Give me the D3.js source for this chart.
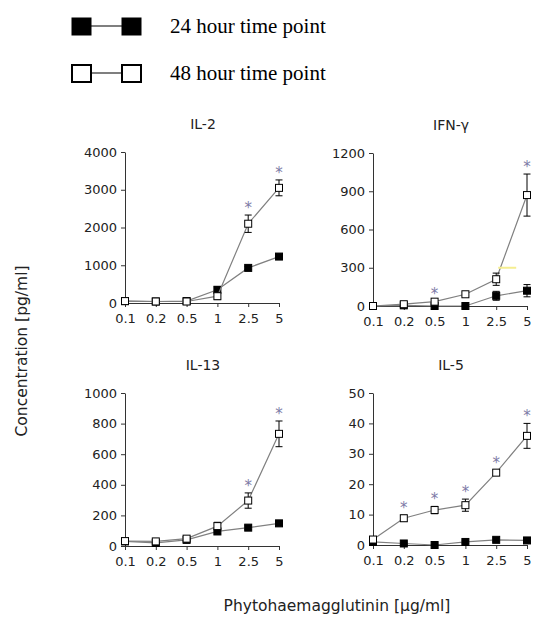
<!DOCTYPE html>
<html>
<head>
<meta charset="utf-8">
<script src="https://cdn.jsdelivr.net/npm/d3@7"></script>
<style>
  body { margin: 0; background: #fff; }
  svg { display: block; }
</style>
</head>
<body>
<svg id="chart" width="536" height="621"></svg>
<script>
// doses (categorical, evenly spaced)
var doses = ["0.1", "0.2", "0.5", "1", "2.5", "5"];

// IL-2
var il2_24 = [50, 40, 50, 350, 930, 1230];
var il2_24err = [20, 20, 20, 80, 40, 50];
var il2_48 = [50, 40, 40, 180, 2100, 3050];
var il2_48err = [20, 20, 20, 90, 230, 210];
var il2_stars = ["2.5", "5"];

// IFN-gamma
var ifn_24 = [0, 5, 0, 0, 80, 120];
var ifn_24err = [2, 2, 2, 2, 35, 48];
var ifn_48 = [0, 14, 34, 92, 210, 870];
var ifn_48err = [2, 5, 8, 15, 48, 165];
var ifn_stars = ["0.5", "5"];

// IL-13
var il13_24 = [30, 20, 40, 95, 120, 148];
var il13_24err = [5, 5, 8, 12, 12, 12];
var il13_48 = [32, 30, 48, 130, 297, 733];
var il13_48err = [5, 5, 8, 25, 50, 84];
var il13_stars = ["2.5", "5"];

// IL-5
var il5_24 = [1, 0.5, 0, 1, 1.7, 1.5];
var il5_24err = [0.4, 0.4, 0.3, 0.5, 0.6, 0.6];
var il5_48 = [1.8, 8.8, 11.5, 13.1, 23.8, 35.9];
var il5_48err = [0.5, 1, 1.2, 2, 0.8, 4.1];
var il5_stars = ["0.2", "0.5", "1", "2.5", "5"];

var svg = d3.select("#chart");
var sans = "DejaVu Sans, Verdana, sans-serif";

var panels = [
  { title: "IL-2", s24: il2_24, e24: il2_24err, s48: il2_48, e48: il2_48err, stars: il2_stars,
    max: 4000, ticks: [0, 1000, 2000, 3000, 4000], x0: 125, x1: 279, y0: 303, y1: 152 },
  { title: "IFN-\u03b3", s24: ifn_24, e24: ifn_24err, s48: ifn_48, e48: ifn_48err, stars: ifn_stars,
    max: 1200, ticks: [0, 300, 600, 900, 1200], x0: 373, x1: 527, y0: 306, y1: 153 },
  { title: "IL-13", s24: il13_24, e24: il13_24err, s48: il13_48, e48: il13_48err, stars: il13_stars,
    max: 1000, ticks: [0, 200, 400, 600, 800, 1000], x0: 125, x1: 279, y0: 546, y1: 393 },
  { title: "IL-5", s24: il5_24, e24: il5_24err, s48: il5_48, e48: il5_48err, stars: il5_stars,
    max: 50, ticks: [0, 10, 20, 30, 40, 50], x0: 373, x1: 527, y0: 545, y1: 393 }
];

var sq = 7;

function styleAxis(a) {
    a.select(".domain").attr("stroke", "#333");
    a.selectAll(".tick line").attr("stroke", "#333");
    a.selectAll("text").style("font-family", sans)
        .style("font-size", "13px").attr("fill", "#222");
}

panels.forEach(function (p) {
    var x = d3.scalePoint().domain(doses).range([p.x0, p.x1]);
    var y = d3.scaleLinear().domain([0, p.max]).range([p.y0, p.y1]);
    var g = svg.append("g");

    g.append("g")
        .attr("transform", "translate(" + p.x0 + ",0)")
        .call(d3.axisLeft(y).tickValues(p.ticks).tickFormat(d3.format("d"))
            .tickSize(4).tickPadding(4).tickSizeOuter(0))
        .call(styleAxis);

    g.append("g")
        .attr("transform", "translate(0," + p.y0 + ")")
        .call(d3.axisBottom(x).tickSize(4).tickPadding(7).tickSizeOuter(0))
        .call(styleAxis);

    g.append("text")
        .attr("x", (p.x0 + p.x1) / 2 + 1)
        .attr("y", p.y1 - 23)
        .attr("text-anchor", "middle")
        .style("font-family", sans)
        .style("font-size", "14px")
        .attr("fill", "#222")
        .text(p.title);

    var line = d3.line()
        .x(function (d, i) { return x(doses[i]); })
        .y(function (d) { return y(d); });

    [[p.s24, p.e24, "#000"], [p.s48, p.e48, "#fff"]].forEach(function (s) {
        g.append("path")
            .datum(s[0])
            .attr("d", line)
            .attr("fill", "none")
            .attr("stroke", "#808080")
            .attr("stroke-width", 1.2);

        // error bars
        s[0].forEach(function (v, i) {
            var cx = x(doses[i]);
            var hi = y(v + s[1][i]), lo = y(Math.max(0, v - s[1][i]));
            g.append("line").attr("x1", cx).attr("x2", cx).attr("y1", hi).attr("y2", lo)
                .attr("stroke", "#000").attr("stroke-width", 1);
            [hi, lo].forEach(function (yy) {
                g.append("line").attr("x1", cx - 3.5).attr("x2", cx + 3.5).attr("y1", yy).attr("y2", yy)
                    .attr("stroke", "#000").attr("stroke-width", 1);
            });
        });

        g.selectAll(null)
            .data(s[0])
            .enter().append("rect")
            .attr("x", function (d, i) { return x(doses[i]) - sq / 2; })
            .attr("y", function (d) { return y(d) - sq / 2; })
            .attr("width", sq)
            .attr("height", sq)
            .attr("fill", s[2])
            .attr("stroke", "#000")
            .attr("stroke-width", 1);
    });

    // significance stars above the 48 hour error bar
    p.stars.forEach(function (dz) {
        var i = doses.indexOf(dz);
        var top = y(p.s48[i] + p.e48[i]);
        g.append("text")
            .attr("x", x(dz))
            .attr("y", top - 2)
            .attr("text-anchor", "middle")
            .style("font-family", sans)
            .style("font-size", "15px")
            .attr("fill", "#7d7aa6")
            .text("*");
    });

    if (p.title === "IFN-\u03b3") {
        // faint yellow stray mark in the source figure
        g.append("line")
            .attr("x1", x("2.5") + 2).attr("x2", x("2.5") + 20)
            .attr("y1", y(300)).attr("y2", y(300))
            .attr("stroke", "#f5ee90").attr("stroke-width", 2);
    }
});

// axis titles
svg.append("text")
    .attr("transform", "translate(27,351) rotate(-90)")
    .attr("text-anchor", "middle")
    .style("font-family", sans)
    .style("font-size", "15.5px")
    .attr("fill", "#222")
    .text("Concentration [pg/ml]");

svg.append("text")
    .attr("x", 337)
    .attr("y", 611)
    .attr("text-anchor", "middle")
    .style("font-family", sans)
    .style("font-size", "15.5px")
    .attr("fill", "#222")
    .text("Phytohaemagglutinin [\u00b5g/ml]");

// legend
var legendItems = ["24 hour time point", "48 hour time point"];
var legendFill = ["#000", "#fff"];
var leg = svg.append("g");
legendItems.forEach(function (lab, i) {
    var cy = 26 + i * 47;
    leg.append("line").attr("x1", 80).attr("x2", 132).attr("y1", cy).attr("y2", cy)
        .attr("stroke", "#000").attr("stroke-width", 1.2);
    [72, 122].forEach(function (lx) {
        leg.append("rect").attr("x", lx).attr("y", cy - 8).attr("width", 19).attr("height", 17)
            .attr("fill", legendFill[i]).attr("stroke", "#000").attr("stroke-width", i === 0 ? 1 : 2);
    });
    leg.append("text")
        .attr("x", 170).attr("y", cy + 7)
        .style("font-family", "Liberation Serif, Times New Roman, serif")
        .style("font-size", "21px")
        .attr("fill", "#000")
        .text(lab);
});
</script>
</body>
</html>
